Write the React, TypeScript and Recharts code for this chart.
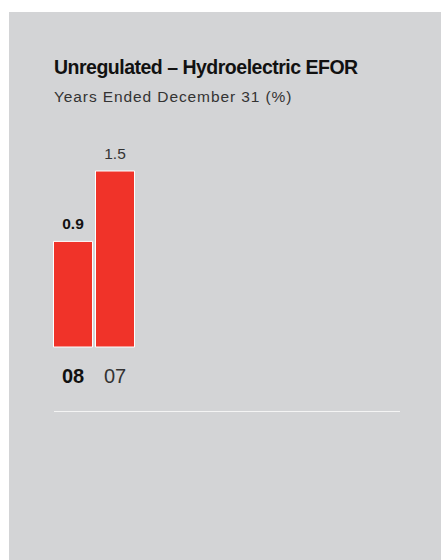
import { BarChart, Bar, XAxis, YAxis, LabelList } from 'recharts'

const years = ['08', '07']
const efor = [0.9, 1.5]

const data = years.map((y, i) => ({ year: y, value: efor[i] }))

const FONT = "'Liberation Sans', Arial, sans-serif"

// eslint-disable-next-line @typescript-eslint/no-explicit-any
function YearTick({ x, y, payload, index }: any) {
  const first = index === 0
  return (
    <text
      x={x} y={y + 28} textAnchor="middle"
      fontFamily={FONT} fontSize={20}
      fontWeight={first ? 700 : 400}
      fill={first ? '#111' : '#333'}
    >
      {payload.value}
    </text>
  )
}

// eslint-disable-next-line @typescript-eslint/no-explicit-any
function ValueLabel({ x, y, width, value, index }: any) {
  const first = index === 0
  return (
    <text
      x={x + width / 2} y={y - 12.5} textAnchor="middle"
      fontFamily={FONT} fontSize={15.5}
      fontWeight={first ? 700 : 400}
      fill={first ? '#111' : '#333'}
    >
      {value}
    </text>
  )
}

export default function App() {
  return (
    <div style={{
      position: 'absolute', left: 9, top: 12, width: 432, height: 548,
      background: '#d3d4d6', fontFamily: FONT,
    }}>
      <div style={{
        position: 'absolute', left: 45, top: 44, fontSize: 19.5, fontWeight: 700,
        color: '#111', letterSpacing: -0.5, whiteSpace: 'nowrap',
      }}>
        Unregulated – Hydroelectric EFOR
      </div>
      <div style={{
        position: 'absolute', left: 45, top: 76, fontSize: 15.5,
        color: '#333', letterSpacing: 0.9, whiteSpace: 'nowrap',
      }}>
        Years Ended December 31 (%)
      </div>
      <div style={{ position: 'absolute', left: 43, top: 119 }}>
        <BarChart
          width={84} height={266} data={data}
          margin={{ top: 40, right: 0, left: 0, bottom: 0 }}
          barCategoryGap={1.5}
        >
          <XAxis
            dataKey="year" height={50} axisLine={false} tickLine={false}
            tick={<YearTick />} interval={0}
          />
          <YAxis hide domain={[0, 1.5]} />
          <Bar dataKey="value" fill="#f03329" stroke="#ffffff" strokeWidth={1} isAnimationActive={false}>
            <LabelList dataKey="value" content={<ValueLabel />} />
          </Bar>
        </BarChart>
      </div>
      <div style={{
        position: 'absolute', left: 45, top: 399, width: 346, height: 1,
        background: '#f4f4f4',
      }} />
    </div>
  )
}
